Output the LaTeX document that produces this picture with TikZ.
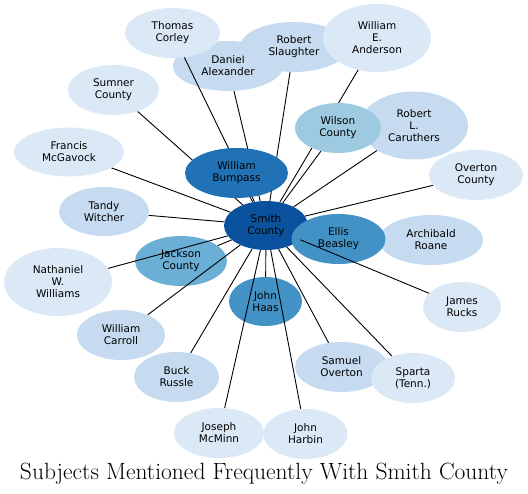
\documentclass[tikz,border=0pt]{standalone}
\usepackage{fontspec}
\newfontfamily\nodefont{DejaVu Sans}
\usepackage{tikz}
\usetikzlibrary{shapes.geometric,backgrounds}
\definecolor{b1}{HTML}{DBE9F6}
\definecolor{b2}{HTML}{C6DBEF}
\definecolor{b3}{HTML}{9ECAE1}
\definecolor{b4}{HTML}{6BAED6}
\definecolor{b5}{HTML}{4292C6}
\definecolor{b6}{HTML}{2171B5}
\definecolor{b7}{HTML}{0A529D}
\tikzset{
  ent/.style={ellipse,inner sep=0pt,minimum height=50pt,align=center,text=black,
    font=\nodefont\fontsize{10.5}{12}\selectfont},
  e1/.style={ent,fill=b1},
  e2/.style={ent,fill=b2},
  e3/.style={ent,fill=b3},
  e4/.style={ent,fill=b4},
  e5/.style={ent,fill=b5},
  e6/.style={ent,fill=b6},
  e7/.style={ent,fill=b7},
  tall/.style={minimum height=68pt},
  lnk/.style={draw=black,line width=0.9pt},
}
\begin{document}
\begin{tikzpicture}[x=1pt,y=-1pt]
\useasboundingbox (0,0) rectangle (528,494);
% outer ring, back to front
\node[e1,minimum width=95pt] (corley) at (172.5,33) {Thomas\\Corley};
\node[e2,minimum width=108pt] (slaughter) at (294,47) {Robert\\Slaughter};
\node[e1,tall,minimum width=108pt] (anderson) at (377,38) {William\\E.\\Anderson};
\node[e1,minimum width=91pt] (sumner) at (113.5,90) {Sumner\\County};
\node[e1,minimum width=110pt,minimum height=49pt] (mcgavock) at (69,152) {Francis\\McGavock};
\node[e2,tall,minimum width=108pt] (caruthers) at (414,125.5) {Robert\\L.\\Caruthers};
\node[e3,minimum width=86pt] (wilson) at (338,128) {Wilson\\County};
\node[e1,minimum width=94pt] (overtonco) at (476,175) {Overton\\County};
\node[e6,minimum width=103pt] (bumpass) at (236.5,173) {William\\Bumpass};
\node[e2,minimum width=90pt,minimum height=49pt] (witcher) at (104,211.5) {Tandy\\Witcher};
\node[e7,minimum width=84pt,minimum height=49pt] (smith) at (266,225.5) {Smith\\County};
\node[e2,minimum width=104pt] (roane) at (431,240) {Archibald\\Roane};
\node[e5,minimum width=94pt] (beasley) at (338.5,239) {Ellis\\Beasley};
\node[e1,tall,minimum width=108pt] (williams) at (58,282) {Nathaniel\\W.\\Williams};
\node[e1,minimum width=78pt] (rucks) at (462,307) {James\\Rucks};
\node[e2,minimum width=88pt] (carroll) at (121,335) {William\\Carroll};
\node[e2,minimum width=85pt] (russle) at (176.5,377) {Buck\\Russle};
\node[e2,minimum width=93pt] (soverton) at (341.5,367) {Samuel\\Overton};
\node[e1,minimum width=84pt] (sparta) at (413,378) {Sparta\\(Tenn.)};
\node[e1,minimum width=90pt] (mcminn) at (219,433) {Joseph\\McMinn};
\node[e1,minimum width=84pt] (harbin) at (305.5,434) {John\\Harbin};
% ellipses that the links cross, then the links
\begin{scope}[on background layer]
\node[e2,minimum width=110pt] (alexander) at (228,66) {Daniel\\Alexander};
\node[e4,minimum width=92pt] (jackson) at (181,261) {Jackson\\County};
\node[e5,minimum width=73pt,minimum height=49pt] (haas) at (265.5,301.5) {John\\Haas};
\draw[lnk] (smith)--(corley); \draw[lnk] (smith)--(alexander); \draw[lnk] (smith)--(slaughter);
\draw[lnk] (smith)--(anderson); \draw[lnk] (smith)--(sumner); \draw[lnk] (smith)--(mcgavock);
\draw[lnk] (smith)--(bumpass); \draw[lnk] (smith)--(witcher); \draw[lnk] (smith)--(wilson);
\draw[lnk] (smith)--(caruthers); \draw[lnk] (smith)--(overtonco); \draw[lnk] (smith)--(beasley);
\draw[lnk] (smith)--(roane); \draw[lnk] (smith)--(jackson); \draw[lnk] (smith)--(williams);
\draw[lnk] (smith)--(haas); \draw[lnk] (smith)--(carroll); \draw[lnk] (smith)--(russle);
\draw[lnk] (smith)--(soverton); \draw[lnk] (smith)--(sparta); \draw[lnk] (smith)--(mcminn);
\draw[lnk] (smith)--(harbin);
\end{scope}
% link drawn over Ellis Beasley
\draw[lnk] (smith)--(rucks);
\node[anchor=base,font=\fontsize{23.5}{28}\selectfont] (title) at (264,479) {Subjects Mentioned Frequently With Smith County};
\end{tikzpicture}
\end{document}
